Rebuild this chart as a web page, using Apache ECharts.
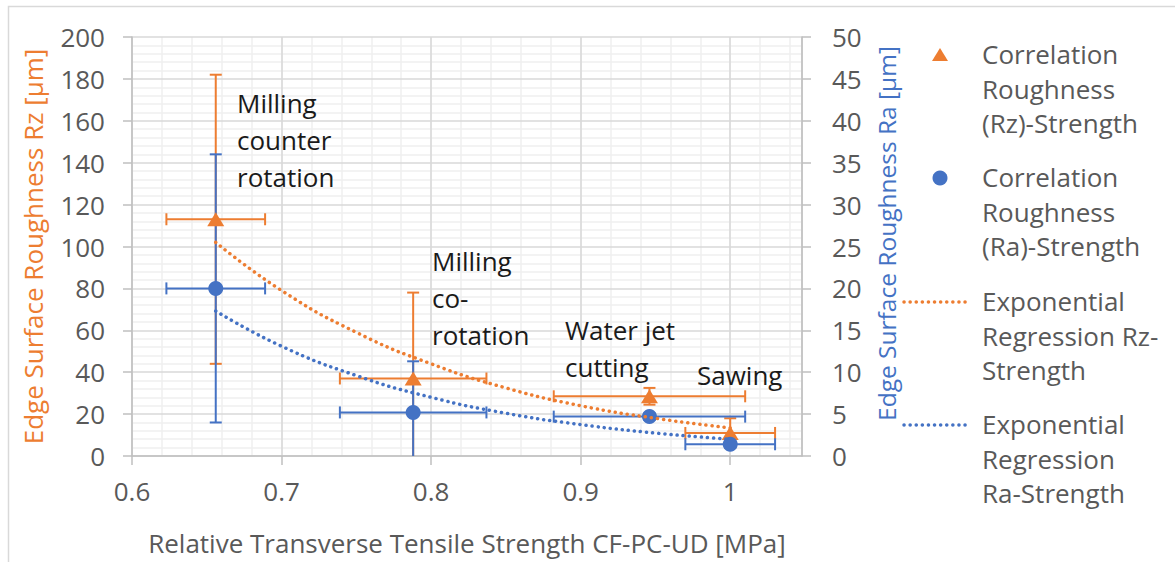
<!DOCTYPE html>
<html>
<head>
<meta charset="utf-8">
<script src="https://cdn.jsdelivr.net/npm/echarts@6/dist/echarts.min.js"></script>
<style>
  html, body { margin: 0; padding: 0; background: #fff; }
  #chart { width: 1175px; height: 562px; }
</style>
</head>
<body>
<div id="chart"></div>
<script>
// relative transverse tensile strength per cutting method
const methods = ['Milling\ncounter\nrotation', 'Milling\nco-\nrotation', 'Water jet\ncutting', 'Sawing'];
const strength = [0.656, 0.788, 0.946, 1.0];
const strengthErr = [0.033, 0.049, 0.064, 0.030];
// roughness values (Rz on left axis, Ra on right axis)
const rz = [113, 37, 28.5, 11];
const rzErr = [69, 41, 4, 7];
const ra = [20, 5.2, 4.7, 1.4];
const raErr = [16, 6.1, 0.4, 0.4];
// exponential regression curves
const trendX = [0.656, 0.7, 0.75, 0.8, 0.85, 0.9, 0.95, 1.0];
const rzTrend = [102, 79, 59, 44, 32.5, 24, 18, 13.4];
const raTrend = [17.3, 13.1, 9.6, 7.0, 5.1, 3.75, 2.74, 2.0];

const ORANGE = '#ED7D31';
const BLUE = '#4472C4';
const GREY = '#595959';
const FONT = 'Open Sans';

const chart = echarts.init(document.getElementById('chart'), null, { renderer: 'svg' });

function errorBars(color, yMax) {
  return function (params, api) {
    const x = api.value(0), y = api.value(1), ex = api.value(2), ey = api.value(3);
    const lo = Math.max(0, y - ey), hi = Math.min(yMax, y + ey);
    const pLo = api.coord([x, lo]), pHi = api.coord([x, hi]);
    const pL = api.coord([x - ex, y]), pR = api.coord([x + ex, y]);
    const st = { stroke: color, lineWidth: 2 };
    const c = 6;
    const kids = [
      { type: 'line', shape: { x1: pLo[0], y1: pLo[1], x2: pHi[0], y2: pHi[1] }, style: st },
      { type: 'line', shape: { x1: pL[0], y1: pL[1], x2: pR[0], y2: pR[1] }, style: st },
      { type: 'line', shape: { x1: pL[0], y1: pL[1] - c, x2: pL[0], y2: pL[1] + c }, style: st },
      { type: 'line', shape: { x1: pR[0], y1: pR[1] - c, x2: pR[0], y2: pR[1] + c }, style: st }
    ];
    if (hi === y + ey) kids.push({ type: 'line', shape: { x1: pHi[0] - c, y1: pHi[1], x2: pHi[0] + c, y2: pHi[1] }, style: st });
    if (lo === y - ey) kids.push({ type: 'line', shape: { x1: pLo[0] - c, y1: pLo[1], x2: pLo[0] + c, y2: pLo[1] }, style: st });
    return { type: 'group', children: kids };
  };
}

const legendTexts = [
  'Correlation\nRoughness\n(Rz)-Strength',
  'Correlation\nRoughness\n(Ra)-Strength',
  'Exponential\nRegression Rz-\nStrength',
  'Exponential\nRegression\nRa-Strength'
];
const legendY = [55, 178, 302, 425];
const dotted = { lineDash: [0.1, 6], lineCap: 'round', lineWidth: 3.5 };

const graphics = [
  { type: 'rect', z: -10, shape: { x: 8.5, y: 6.5, width: 1180, height: 600 }, style: { fill: 'none', stroke: '#D9D9D9', lineWidth: 1.5 } },
  { type: 'polygon', z: 100, shape: { points: [[940, 48], [932, 61], [948, 61]] }, style: { fill: ORANGE } },
  { type: 'circle', z: 100, shape: { cx: 940, cy: 178, r: 7.5 }, style: { fill: BLUE } },
  { type: 'line', z: 100, shape: { x1: 904, y1: 302, x2: 970, y2: 302 }, style: Object.assign({ stroke: ORANGE }, dotted) },
  { type: 'line', z: 100, shape: { x1: 904, y1: 425, x2: 970, y2: 425 }, style: Object.assign({ stroke: BLUE }, dotted) }
];
legendTexts.forEach((t, i) => {
  graphics.push({
    type: 'text', z: 100, left: 982, top: legendY[i] - 18,
    style: { text: t, fill: GREY, font: '26px "' + FONT + '"', lineHeight: 34.5 }
  });
});
const labelPos = [[237, 84], [432, 242], [565, 311], [697, 356]];
methods.forEach((m, i) => {
  graphics.push({
    type: 'text', z: 100, left: labelPos[i][0], top: labelPos[i][1],
    style: { text: m, fill: '#1a1a1a', font: '26px "' + FONT + '"', lineHeight: 37 }
  });
});

chart.setOption({
  backgroundColor: '#fff',
  animation: false,
  textStyle: { fontFamily: FONT },
  grid: { left: 132, right: 373, top: 37, bottom: 106, outerBoundsMode: 'none', containLabel: false },
  graphic: graphics,
  xAxis: [
    {
      type: 'value', min: 0.6, max: 1.048, interval: 0.1,
      name: 'Relative Transverse Tensile Strength CF-PC-UD [MPa]',
      nameLocation: 'middle', nameGap: 74,
      nameTextStyle: { color: GREY, fontSize: 26 },
      axisLine: { lineStyle: { color: '#BFBFBF', width: 1.5 } },
      axisTick: { show: true, length: 9, lineStyle: { color: '#BFBFBF', width: 1.5 } },
      axisLabel: { color: GREY, fontSize: 26, margin: 22, showMaxLabel: false },
      splitLine: { lineStyle: { color: '#D9D9D9', width: 1.5 } }
    },
    {
      // minor vertical gridlines
      type: 'value', min: 0.6, max: 1.048, interval: 0.02, position: 'bottom',
      axisLine: { show: false }, axisTick: { show: false }, axisLabel: { show: false },
      splitLine: { lineStyle: { color: '#EFEFEF', width: 1.5 } }, z: -1
    }
  ],
  yAxis: [
    {
      type: 'value', min: 0, max: 200, interval: 20,
      name: 'Edge Surface Roughness Rz [µm]',
      nameLocation: 'middle', nameGap: 86,
      nameTextStyle: { color: ORANGE, fontSize: 26 },
      axisLine: { show: true, lineStyle: { color: '#BFBFBF', width: 1.5 } },
      axisTick: { show: true, length: 9, lineStyle: { color: '#BFBFBF', width: 1.5 } },
      axisLabel: { color: GREY, fontSize: 26, margin: 27 },
      splitLine: { lineStyle: { color: '#D9D9D9', width: 1.5 } },
      minorTick: { show: false, splitNumber: 5 },
      minorSplitLine: { show: true, lineStyle: { color: '#EFEFEF', width: 1.5 } }
    },
    {
      type: 'value', min: 0, max: 50, interval: 5, position: 'right',
      name: 'Edge Surface Roughness Ra [µm]',
      nameLocation: 'middle', nameGap: 72, nameRotate: 90,
      nameTextStyle: { color: BLUE, fontSize: 24.5, padding: [0, 0, 0, 26] },
      axisLine: { show: true, lineStyle: { color: '#BFBFBF', width: 1.5 } },
      axisTick: { show: true, length: 9, lineStyle: { color: '#BFBFBF', width: 1.5 } },
      axisLabel: { color: GREY, fontSize: 26, margin: 30 },
      splitLine: { show: false }
    }
  ],
  series: [
    {
      name: 'Rz errors', type: 'custom', yAxisIndex: 0,
      renderItem: errorBars(ORANGE, 200),
      data: strength.map((x, i) => [x, rz[i], strengthErr[i], rzErr[i]])
    },
    {
      name: 'Correlation Roughness (Rz)-Strength', type: 'scatter', yAxisIndex: 0,
      symbol: 'triangle', symbolSize: [17, 14], itemStyle: { color: ORANGE, opacity: 1 },
      data: strength.map((x, i) => [x, rz[i]])
    },
    {
      name: 'Ra errors', type: 'custom', yAxisIndex: 1,
      renderItem: errorBars(BLUE, 50),
      data: strength.map((x, i) => [x, ra[i], strengthErr[i], raErr[i]])
    },
    {
      name: 'Correlation Roughness (Ra)-Strength', type: 'scatter', yAxisIndex: 1,
      symbol: 'circle', symbolSize: 15, itemStyle: { color: BLUE, opacity: 1 },
      data: strength.map((x, i) => [x, ra[i]])
    },
    {
      name: 'Exponential Regression Rz-Strength', type: 'line', yAxisIndex: 0,
      smooth: true, showSymbol: false,
      lineStyle: { color: ORANGE, width: 3.5, type: [0.1, 6], cap: 'round' },
      data: trendX.map((x, i) => [x, rzTrend[i]])
    },
    {
      name: 'Exponential Regression Ra-Strength', type: 'line', yAxisIndex: 1,
      smooth: true, showSymbol: false,
      lineStyle: { color: BLUE, width: 3.5, type: [0.1, 6], cap: 'round' },
      data: trendX.map((x, i) => [x, raTrend[i]])
    }
  ]
});
</script>
</body>
</html>
